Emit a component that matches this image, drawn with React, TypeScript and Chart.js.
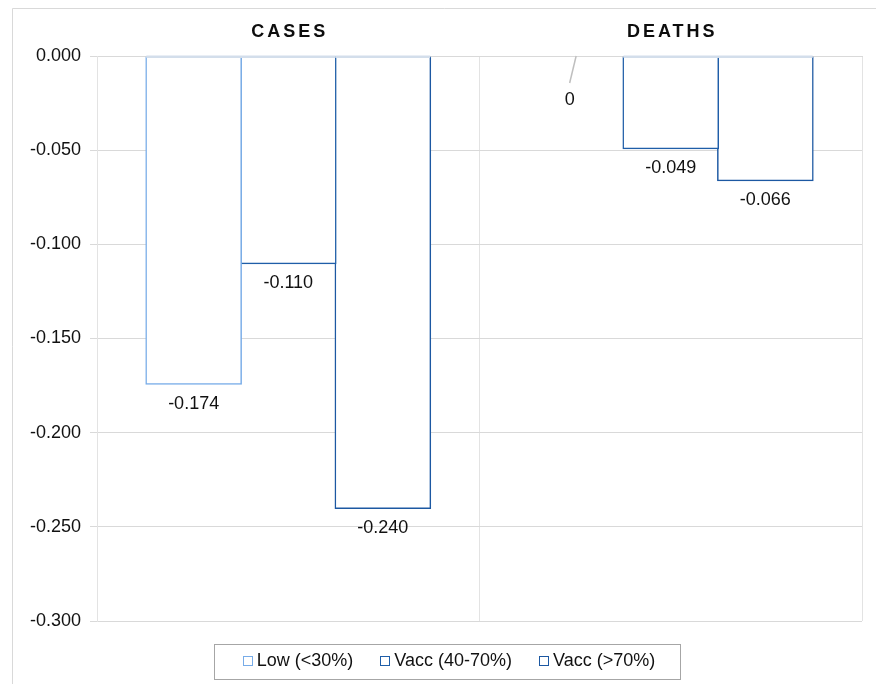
import { useEffect, useRef } from "react";
import { Chart, registerables } from "chart.js";

Chart.register(...registerables);

const categories = ["CASES", "DEATHS"];
const seriesNames = ["Low (<30%)", "Vacc (40-70%)", "Vacc (>70%)"];
const lowValues = [-0.174, 0];
const vacc4070Values = [-0.11, -0.049];
const vacc70Values = [-0.24, -0.066];
const seriesColors = ["#78ace8", "#1f5ea8", "#1c58a2"];
const yMin = -0.3;
const yMax = 0;
const yStep = 0.05;

const FONT = "'Liberation Sans', Arial, Helvetica, sans-serif";

const fmt = (v: number) => (v === 0 ? "0" : v.toFixed(3));

const decorPlugin = {
  id: "decor",
  beforeDraw(chart: any) {
    const ctx = chart.ctx;
    ctx.save();
    ctx.fillStyle = "#ffffff";
    ctx.fillRect(0, 0, chart.width, chart.height);
    ctx.strokeStyle = "#d9d9d9";
    ctx.lineWidth = 1;
    ctx.beginPath();
    ctx.moveTo(12.5, chart.height);
    ctx.lineTo(12.5, 8.5);
    ctx.lineTo(chart.width, 8.5);
    ctx.stroke();
    ctx.restore();
  },
  afterDatasetsDraw(chart: any) {
    const ctx = chart.ctx;
    const yScale = chart.scales.y;
    const y0 = yScale.getPixelForValue(0);
    ctx.save();
    ctx.font = `18px ${FONT}`;
    ctx.textAlign = "center";
    ctx.textBaseline = "middle";
    chart.data.datasets.forEach((ds: any, di: number) => {
      const meta = chart.getDatasetMeta(di);
      meta.data.forEach((bar: any, i: number) => {
        const v = ds.data[i] as number;
        const { x, y, width } = bar.getProps(["x", "y", "width"], true);
        if (v < 0) {
          ctx.fillStyle = "#d3deeb";
          ctx.fillRect(x - width / 2, y0 - 0.5, width, 2.5);
          ctx.fillStyle = "#111111";
          ctx.fillText(fmt(v), x, y + 20);
        } else {
          ctx.strokeStyle = "#bfbfbf";
          ctx.lineWidth = 1.5;
          ctx.beginPath();
          ctx.moveTo(x, y0);
          ctx.lineTo(x - 6.5, y0 + 27);
          ctx.stroke();
          ctx.fillStyle = "#111111";
          ctx.fillText(fmt(v), x - 6.5, y0 + 44);
        }
      });
    });
    ctx.restore();
  },
  afterDraw(chart: any) {
    const ctx = chart.ctx;
    const xScale = chart.scales.x;
    ctx.save();
    const ls = 3;
    ctx.font = `bold 18px ${FONT}`;
    (ctx as any).letterSpacing = `${ls}px`;
    ctx.textAlign = "center";
    ctx.textBaseline = "middle";
    ctx.fillStyle = "#0d0d0d";
    categories.forEach((c, i) => {
      const x = xScale.getPixelForValue(i);
      ctx.fillText(c, x + ls / 2, 32);
    });
    (ctx as any).letterSpacing = "0px";

    ctx.font = `18px ${FONT}`;
    const sq = 10;
    const gap = 4;
    const itemGap = 27;
    const names = chart.data.datasets.map((d: any) => d.label as string);
    const widths = names.map((n: string) => ctx.measureText(n).width);
    const total =
      widths.reduce((a: number, w: number) => a + sq + gap + w, 0) +
      itemGap * (names.length - 1);
    const cx = 449;
    const cy = 661;
    let x = cx - total / 2;
    const boxL = Math.round(x - 29) + 0.5;
    const boxR = Math.round(x + total + 25) + 0.5;
    ctx.strokeStyle = "#a6a6a6";
    ctx.lineWidth = 1;
    ctx.strokeRect(boxL, 644.5, boxR - boxL, 35);
    ctx.textAlign = "left";
    ctx.textBaseline = "middle";
    names.forEach((n: string, i: number) => {
      const ds = chart.data.datasets[i];
      const sx = Math.round(x) + 0.5;
      const sy = Math.round(cy - sq / 2) + 0.5;
      ctx.fillStyle = "#ffffff";
      ctx.fillRect(sx, sy, sq - 1, sq - 1);
      ctx.strokeStyle = ds.borderColor;
      ctx.strokeRect(sx, sy, sq - 1, sq - 1);
      ctx.fillStyle = "#111111";
      ctx.fillText(n, x + sq + gap, cy);
      x += sq + gap + widths[i] + itemGap;
    });
    ctx.restore();
  },
};

export default function App() {
  const canvasRef = useRef<HTMLCanvasElement | null>(null);

  useEffect(() => {
    const canvas = canvasRef.current;
    if (!canvas) return;
    const seriesData = [lowValues, vacc4070Values, vacc70Values];
    const chart = new Chart(canvas, {
      type: "bar",
      data: {
        labels: categories,
        datasets: seriesNames.map((name, i) => ({
          label: name,
          data: seriesData[i],
          backgroundColor: "#ffffff",
          borderColor: seriesColors[i],
          borderWidth: 1.5,
          inflateAmount: 1,
          borderSkipped: "start",
          categoryPercentage: 0.742,
          barPercentage: 1,
        })),
      },
      options: {
        responsive: false,
        animation: false,
        layout: { padding: { left: 0, right: 14, top: 56, bottom: 63 } },
        plugins: {
          legend: { display: false },
          tooltip: { enabled: false },
          title: { display: false },
        },
        scales: {
          x: {
            position: "top",
            grid: {
              offset: true,
              color: "#e3e3e3",
              drawTicks: false,
            },
            border: { display: true, color: "#d9d9d9" },
            ticks: { display: false },
          },
          y: {
            min: yMin,
            max: yMax,
            afterFit: (scale: any) => {
              scale.width = 97;
            },
            grid: {
              color: "#d9d9d9",
              tickLength: 7,
              drawTicks: true,
            },
            border: { display: true, color: "#e3e3e3" },
            ticks: {
              stepSize: yStep,
              padding: 9,
              color: "#111111",
              font: { family: FONT, size: 18 },
              callback: (v: any) => Number(v).toFixed(3),
            },
          },
        },
      },
      plugins: [decorPlugin],
    });
    return () => chart.destroy();
  }, []);

  return (
    <div style={{ position: "absolute", left: 0, top: 0, width: 876, height: 684 }}>
      <canvas ref={canvasRef} width={876} height={684} style={{ display: "block" }} />
    </div>
  );
}
